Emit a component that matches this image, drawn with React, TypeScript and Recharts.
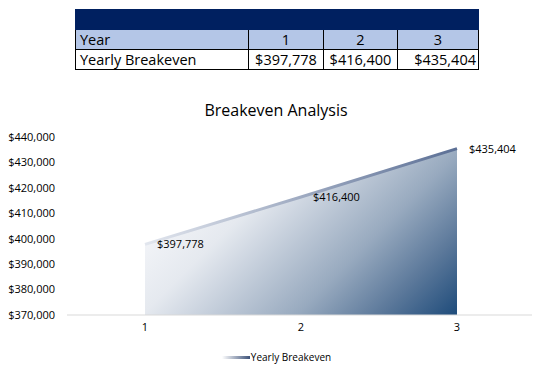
import { AreaChart, Area, XAxis, YAxis, Legend, LabelList } from "recharts";

const years = ["1", "2", "3"];
const breakeven = [397778, 416400, 435404];
const yTicks = [370000, 380000, 390000, 400000, 410000, 420000, 430000, 440000];

const data = years.map((year, i) => ({ year, value: breakeven[i] }));

const FONT = "'Open Sans', 'Noto Sans', sans-serif";
const money = (v: number) => "$" + v.toLocaleString("en-US");

const cell: React.CSSProperties = {
  border: "1px solid #000",
  padding: "1px 4px 0",
  height: 20,
  lineHeight: "18px",
  textAlign: "center",
  boxSizing: "border-box",
};

const BreakevenTable = () => (
  <table
    style={{
      position: "absolute",
      left: 75,
      top: 9,
      width: 403,
      borderCollapse: "collapse",
      fontFamily: FONT,
      fontSize: 14.5,
      color: "#000",
      tableLayout: "fixed",
    }}
  >
    <colgroup>
      <col style={{ width: 173 }} />
      <col style={{ width: 75 }} />
      <col style={{ width: 74 }} />
      <col style={{ width: 81 }} />
    </colgroup>
    <tbody>
      <tr>
        <td
          colSpan={4}
          style={{ background: "#002060", height: 19, padding: 0, border: "1px solid #002060" }}
        />
      </tr>
      <tr style={{ background: "#b4c6e7" }}>
        <td style={{ ...cell, textAlign: "left" }}>Year</td>
        {years.map((y) => (
          <td key={y} style={cell}>
            {y}
          </td>
        ))}
      </tr>
      <tr>
        <td style={{ ...cell, textAlign: "left" }}>Yearly Breakeven</td>
        {breakeven.map((v, i) => (
          <td key={i} style={{ ...cell, padding: "1px 2px 0", textAlign: i === 2 ? "right" : "center" }}>
            {money(v)}
          </td>
        ))}
      </tr>
    </tbody>
  </table>
);

const LegendContent = () => (
  <div
    style={{
      display: "flex",
      justifyContent: "center",
      alignItems: "center",
      fontFamily: FONT,
      fontSize: 10,
      color: "#000",
      height: 16,
      paddingLeft: 18,
    }}
  >
    <div
      style={{
        width: 28,
        height: 3,
        background: "linear-gradient(to right, #ffffff, #3d5279)",
        marginRight: 1,
      }}
    />
    <span>Yearly Breakeven</span>
  </div>
);

export default function App() {
  return (
    <div style={{ position: "relative", width: 540, height: 387, margin: -8, background: "#fff" }}>
      <BreakevenTable />
      <div
        style={{
          position: "absolute",
          top: 99,
          left: 0,
          width: 552,
          textAlign: "center",
          fontFamily: FONT,
          fontSize: 16,
          color: "#000",
        }}
      >
        Breakeven Analysis
      </div>
      <div style={{ position: "absolute", top: 90, left: 0 }}>
        <AreaChart
          width={540}
          height={297}
          data={data}
          margin={{ top: 47, right: 5, bottom: 22, left: 0 }}
        >
          <defs>
            <linearGradient
              id="areaFill"
              gradientUnits="userSpaceOnUse"
              x1="145"
              y1="154"
              x2="336"
              y2="345"
            >
              <stop offset="0%" stopColor="#f1f3f7" />
              <stop offset="18%" stopColor="#e5e9ef" />
              <stop offset="30%" stopColor="#ced6e1" />
              <stop offset="58%" stopColor="#98aabf" />
              <stop offset="80%" stopColor="#5b789a" />
              <stop offset="100%" stopColor="#1f4c7b" />
            </linearGradient>
            <linearGradient id="lineStroke" x1="0" y1="0" x2="1" y2="0">
              <stop offset="0%" stopColor="#e2e6ee" />
              <stop offset="100%" stopColor="#5b6f95" />
            </linearGradient>
          </defs>
          <XAxis
            dataKey="year"
            padding={{ left: 78, right: 78 }}
            height={34}
            tickLine={false}
            axisLine={{ stroke: "#d9d9d9" }}
            tick={{ fontFamily: FONT, fontSize: 11, fill: "#000" }}
          />
          <YAxis
            domain={[370000, 440000]}
            ticks={yTicks}
            width={67}
            tickMargin={6}
            axisLine={false}
            tickLine={false}
            tickFormatter={money}
            tick={{ fontFamily: FONT, fontSize: 11, fill: "#000" }}
          />
          <Legend verticalAlign="bottom" content={<LegendContent />} />
          <Area
            type="linear"
            dataKey="value"
            name="Yearly Breakeven"
            stroke="url(#lineStroke)"
            strokeWidth={3}
            fill="url(#areaFill)"
            fillOpacity={1}
            isAnimationActive={false}
          >
            <LabelList
              dataKey="value"
              position="right"
              offset={12}
              formatter={(v: number) => money(v)}
              style={{ fontFamily: FONT, fontSize: 11, fill: "#000" }}
            />
          </Area>
        </AreaChart>
      </div>
    </div>
  );
}
